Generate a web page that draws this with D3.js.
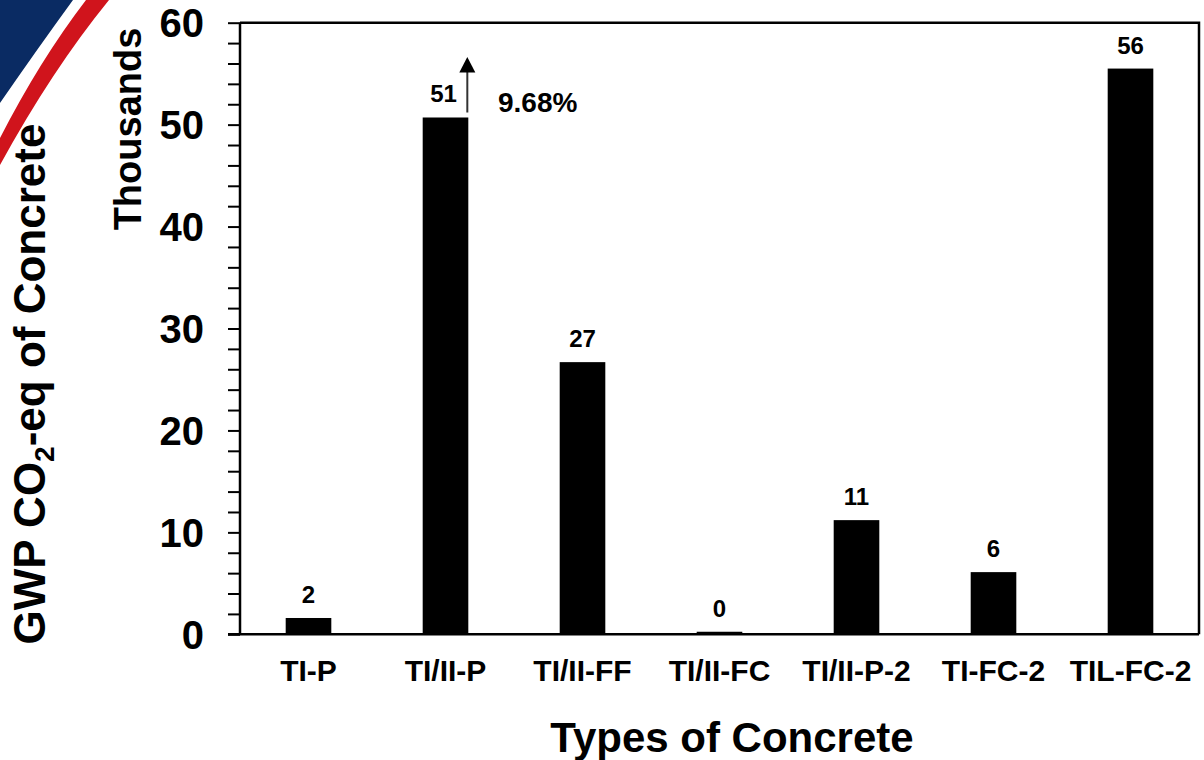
<!DOCTYPE html>
<html>
<head>
<meta charset="utf-8">
<script src="https://cdn.jsdelivr.net/npm/d3@7"></script>
<style>
  html, body { margin: 0; padding: 0; background: #fff; }
  svg { display: block; font-family: "Liberation Sans", Arial, sans-serif; font-weight: bold; }
</style>
</head>
<body>
<svg id="chart" width="1204" height="760"></svg>
<script>
// Concrete types and their GWP (thousands of kg CO2-eq)
const categories = ["TI-P", "TI/II-P", "TI/II-FF", "TI/II-FC", "TI/II-P-2", "TI-FC-2", "TIL-FC-2"];
const gwpThousands = [1.6, 50.7, 26.7, 0.25, 11.2, 6.1, 55.5];
const yTickValues = [0, 10, 20, 30, 40, 50, 60];
const yMinorStep = 2;
const increaseNote = "9.68%";

const svg = d3.select("#chart");
const plot = { left: 240, right: 1199, top: 22.7, bottom: 634.3 };

// Decorative corner swoosh
svg.append("path")
  .attr("d", "M0,0 L73,0 Q38,48 0,103 Z")
  .attr("fill", "#0a2b63");
svg.append("path")
  .attr("d", "M86,0 L109,0 Q52,70 0,165 L0,138 Q40,60 86,0 Z")
  .attr("fill", "#d0141c");

const x = d3.scaleBand()
  .domain(categories)
  .range([plot.left, plot.right])
  .paddingInner(0.667)
  .paddingOuter(0.3335);

const y = d3.scaleLinear()
  .domain([0, 60])
  .range([plot.bottom, plot.top]);

// Plot frame (top and right)
svg.append("path")
  .attr("d", `M${plot.left},${plot.top} H${plot.right} V${plot.bottom}`)
  .attr("fill", "none").attr("stroke", "#000").attr("stroke-width", 2.5);

// Y axis with ticks every 2 units, labels every 10
const minorTicks = d3.range(0, 60 + 0.001, yMinorStep);
const yAxis = d3.axisLeft(y)
  .tickValues(minorTicks)
  .tickSize(12)
  .tickFormat("");
const gy = svg.append("g").attr("transform", `translate(${plot.left},0)`).call(yAxis);
gy.select(".domain").attr("stroke-width", 2.5).attr("d", `M0,${plot.top}V${plot.bottom}`);
gy.selectAll(".tick line").attr("stroke-width", 2);

svg.append("g").selectAll("text")
  .data(yTickValues)
  .join("text")
  .attr("x", 204)
  .attr("y", d => y(d))
  .attr("dy", "0.36em")
  .attr("text-anchor", "end")
  .attr("font-size", 40)
  .text(d => d);

// X axis
const xAxis = d3.axisBottom(x).tickSize(0).tickPadding(0);
const gx = svg.append("g").attr("transform", `translate(0,${plot.bottom})`).call(xAxis);
gx.select(".domain").attr("stroke-width", 2.5).attr("d", `M${plot.left - 12},0H${plot.right}`);
gx.selectAll(".tick text")
  .attr("font-size", 30)
  .attr("font-family", "Liberation Sans, Arial, sans-serif")
  .attr("font-weight", "bold")
  .attr("fill", "#000")
  .attr("dy", 0)
  .attr("y", 47);

// Bars
const data = categories.map((c, i) => ({ c, v: gwpThousands[i] }));
svg.append("g").selectAll("rect")
  .data(data)
  .join("rect")
  .attr("x", d => x(d.c))
  .attr("width", x.bandwidth())
  .attr("y", d => y(d.v))
  .attr("height", d => y(0) - y(d.v))
  .attr("fill", "#000");

// Value labels
svg.append("g").selectAll("text")
  .data(data)
  .join("text")
  .attr("x", d => x(d.c) + x.bandwidth() / 2 - (d.c === "TI/II-P" ? 2 : 0))
  .attr("y", d => y(d.v) - 15)
  .attr("text-anchor", "middle")
  .attr("font-size", 24)
  .text(d => d3.format(".0f")(d.v));

// Increase arrow on TI/II-P
const ax = x("TI/II-P") + x.bandwidth() - 1;
const topVal = gwpThousands[1];
svg.append("line")
  .attr("x1", ax).attr("x2", ax)
  .attr("y1", y(topVal) - 5).attr("y2", 71)
  .attr("stroke", "#333").attr("stroke-width", 2);
svg.append("path")
  .attr("d", `M${ax},57 L${ax + 8},72.5 L${ax - 8},72.5 Z`)
  .attr("fill", "#000");
svg.append("text")
  .attr("x", 498).attr("y", 111.7)
  .attr("font-size", 28)
  .text(increaseNote);

// Axis titles
svg.append("text")
  .attr("x", 732).attr("y", 751.7)
  .attr("text-anchor", "middle")
  .attr("font-size", 42)
  .text("Types of Concrete");

svg.append("text")
  .attr("transform", "translate(141,129) rotate(-90)")
  .attr("text-anchor", "middle")
  .attr("font-size", 38)
  .text("Thousands");

const t = svg.append("text")
  .attr("transform", "translate(45,384) rotate(-90)")
  .attr("text-anchor", "middle")
  .attr("font-size", 44);
t.append("tspan").text("GWP CO");
t.append("tspan").attr("font-size", 28).attr("dy", 9).text("2");
t.append("tspan").attr("dy", -9).text("-eq of Concrete");
</script>
</body>
</html>
